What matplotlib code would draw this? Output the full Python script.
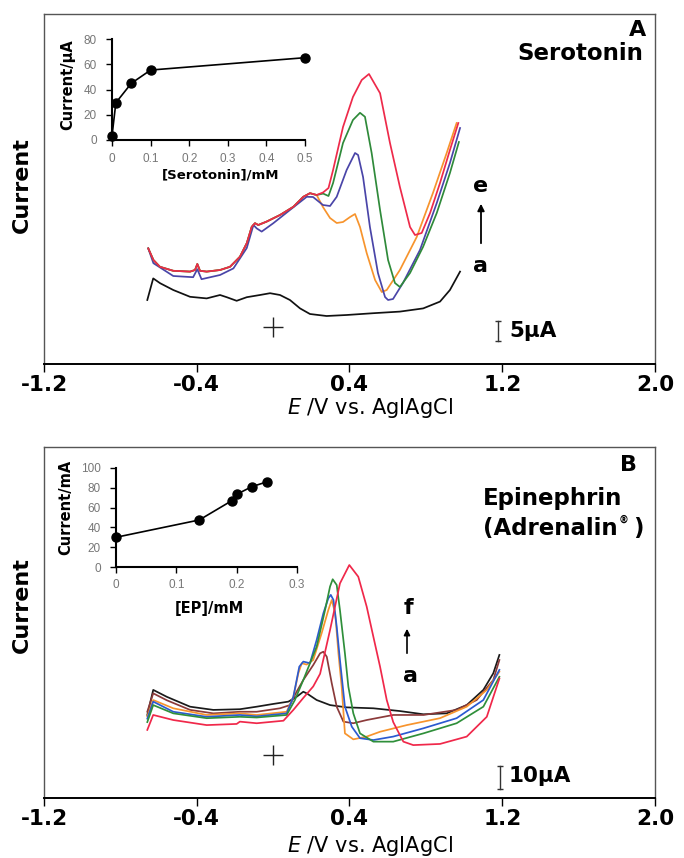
import numpy as np
import matplotlib
matplotlib.use("Agg")
import matplotlib.pyplot as plt

plt.rcParams['font.family'] = ['DejaVu Sans']
plt.rcParams['axes.unicode_minus'] = False

# ---------------- Panel A data (E / V, current / uA) ----------------
xticks = [-1.2, -0.4, 0.4, 1.2, 2.0]
xticklabels = ['-1.2', '-0.4', '0.4', '1.2', '2.0']

A_black_E = [-0.659, -0.628, -0.592, -0.523, -0.435, -0.348, -0.278, -0.243, -0.191, -0.138, -0.069, -0.016,
             0.036, 0.088, 0.141, 0.193, 0.280, 0.385, 0.525, 0.664, 0.786, 0.874, 0.926, 0.979]
A_black_I = [16.0, 21.4, 20.2, 18.5, 16.8, 16.4, 17.25, 16.7, 15.8, 16.7, 17.25, 17.7,
             17.25, 16.0, 13.9, 12.5, 12.0, 12.25, 12.7, 13.1, 13.9, 15.6, 18.5, 23.1]

A_left_E = [-0.654, -0.627, -0.593, -0.523, -0.435, -0.409, -0.397, -0.383, -0.348, -0.278, -0.226, -0.174,
            -0.138, -0.112, -0.095, -0.078, -0.034, 0.036, 0.106, 0.158, 0.193, 0.228]
A_left_I = [28.9, 26.0, 24.3, 23.3, 23.1, 23.5, 25.0, 23.3, 23.1, 23.5, 24.3, 26.8,
            30.2, 34.3, 35.2, 34.75, 35.6, 37.25, 39.3, 41.8, 42.7, 42.25]

A_red_E = [0.262, 0.290, 0.314, 0.366, 0.418, 0.464, 0.502, 0.560, 0.612, 0.664, 0.717, 0.743, 0.778,
           0.822, 0.874, 0.926, 0.970]
A_red_I = [42.9, 44.0, 48.5, 59.25, 66.75, 71.0, 72.5, 67.7, 55.25, 44.25, 34.25, 32.25, 32.75,
           37.75, 45.25, 53.5, 60.25]

A_green_E = [0.262, 0.290, 0.314, 0.366, 0.418, 0.455, 0.481, 0.516, 0.560, 0.602, 0.638, 0.664, 0.717,
             0.785, 0.857, 0.926, 0.973]
A_green_I = [42.6, 42.0, 45.25, 55.25, 61.0, 62.8, 61.8, 52.75, 38.5, 26.0, 20.25, 19.25, 22.75,
             29.25, 37.75, 47.75, 55.5]

A_orange_E = [0.261, 0.298, 0.333, 0.366, 0.403, 0.429, 0.455, 0.490, 0.534, 0.569, 0.595, 0.664, 0.752,
              0.837, 0.909, 0.961]
A_orange_I = [39.25, 36.5, 35.25, 35.5, 36.75, 37.5, 34.25, 27.75, 21.0, 18.0, 18.5, 23.5, 31.75,
              42.75, 52.75, 60.25]

A_blue_E = [-0.654, -0.627, -0.523, -0.419, -0.397, -0.375, -0.278, -0.208, -0.138, -0.103, -0.086, -0.060,
            0.001, 0.088, 0.176, 0.209, 0.261, 0.298, 0.333, 0.385, 0.429, 0.445, 0.471, 0.507, 0.549,
            0.586, 0.602, 0.628, 0.680, 0.769, 0.857, 0.926, 0.979]
A_blue_I = [28.9, 25.2, 22.0, 21.7, 23.7, 21.2, 22.25, 23.9, 29.0, 34.75, 33.9, 33.1,
            35.2, 38.5, 41.8, 41.75, 39.75, 39.5, 41.8, 48.5, 52.75, 52.25, 46.75, 34.25, 22.75,
            16.75, 16.0, 16.25, 20.25, 28.5, 40.25, 50.25, 59.0]

# inset A: serotonin calibration
serotonin_mM = [0.0, 0.01, 0.05, 0.1, 0.5]
serotonin_uA = [3.2, 29.5, 44.9, 55.4, 65.2]

# ---------------- Panel B data ----------------
B_black_E = [-0.659, -0.628, -0.557, -0.435, -0.313, -0.174, -0.086, 0.001, 0.080, 0.123, 0.158, 0.176,
             0.228, 0.298, 0.385, 0.525, 0.664, 0.787, 0.909, 1.014, 1.101, 1.153, 1.185]
B_black_I = [36.1, 47.0, 44.0, 39.7, 38.3, 38.6, 39.7, 40.9, 41.9, 44.0, 46.2, 45.5,
             42.6, 40.4, 39.4, 39.0, 37.8, 36.4, 36.8, 40.4, 47.0, 54.2, 62.2]

B_brown_E = [-0.659, -0.628, -0.557, -0.435, -0.313, -0.174, -0.086, 0.036, 0.088, 0.123, 0.158, 0.210,
             0.246, 0.263, 0.281, 0.307, 0.333, 0.368, 0.420, 0.490, 0.629, 0.787, 0.961, 1.066, 1.153, 1.185]
B_brown_I = [37.5, 45.5, 42.5, 38.3, 36.8, 37.5, 37.5, 39.0, 40.4, 46.2, 51.3, 57.8,
             62.9, 63.6, 61.4, 49.9, 39.7, 33.2, 32.5, 33.9, 36.1, 36.1, 38.3, 42.6, 51.3, 60.0]

B_orange_E = [-0.659, -0.628, -0.523, -0.348, -0.174, -0.086, 0.071, 0.106, 0.132, 0.150, 0.176, 0.210,
              0.254, 0.289, 0.307, 0.325, 0.342, 0.359, 0.376, 0.420, 0.490, 0.560, 0.700, 0.874, 1.014,
              1.119, 1.185]
B_orange_I = [35.5, 42.6, 39.0, 36.1, 36.8, 36.1, 37.5, 44.0, 54.2, 58.6, 58.0, 60.0,
              71.6, 81.7, 86.1, 80.3, 62.9, 48.4, 28.1, 25.5, 26.7, 28.8, 31.7, 34.7, 39.7,
              47.0, 54.9]

B_blue_E = [-0.659, -0.628, -0.523, -0.348, -0.174, -0.086, 0.071, 0.106, 0.137, 0.158, 0.193, 0.228,
            0.263, 0.289, 0.302, 0.316, 0.333, 0.350, 0.376, 0.412, 0.455, 0.525, 0.629, 0.787, 0.961,
            1.101, 1.185]
B_blue_I = [34.5, 41.9, 37.5, 35.3, 36.1, 35.5, 36.8, 44.0, 57.1, 59.3, 58.6, 68.7,
            80.3, 86.8, 88.3, 86.1, 74.5, 60.0, 39.7, 31.0, 26.0, 25.2, 26.7, 30.3, 34.7,
            42.6, 55.7]

B_green_E = [-0.659, -0.628, -0.523, -0.348, -0.174, -0.086, 0.071, 0.114, 0.158, 0.228, 0.272, 0.298,
             0.312, 0.333, 0.350, 0.376, 0.394, 0.420, 0.455, 0.525, 0.629, 0.787, 0.961, 1.101, 1.185]
B_green_I = [33.0, 40.4, 36.8, 34.7, 35.3, 35.0, 36.1, 42.6, 51.3, 65.8, 81.7, 91.9,
             95.1, 92.6, 81.7, 62.9, 48.4, 36.8, 28.1, 24.5, 24.5, 28.1, 32.5, 39.7, 52.7]

B_red_E = [-0.659, -0.628, -0.523, -0.348, -0.191, -0.174, -0.086, 0.054, 0.106, 0.158, 0.210, 0.246,
           0.298, 0.350, 0.399, 0.446, 0.490, 0.525, 0.560, 0.595, 0.629, 0.682, 0.734, 0.874, 1.014,
           1.119, 1.185]
B_red_I = [29.6, 36.1, 33.9, 31.7, 32.2, 33.2, 32.5, 33.6, 38.3, 43.5, 48.5, 54.0,
           73.0, 93.3, 101.3, 96.2, 83.2, 70.1, 57.1, 42.6, 33.0, 24.5, 23.0, 23.5, 26.7,
           35.3, 51.9]

# inset B: epinephrine calibration
ep_mM = [0.0, 0.138, 0.192, 0.200, 0.225, 0.251]
ep_mA = [30.0, 47.5, 67.0, 73.4, 81.1, 86.2]

W, H = 684, 858
fig = plt.figure(figsize=(W / 100, H / 100), dpi=100)
fig.patch.set_facecolor('white')


def fx(px):
    return px / W


def fy(py):
    return 1 - py / H


def style_main(ax, ymax):
    ax.set_xlim(-1.2, 2.0)
    ax.set_ylim(0, ymax)
    ax.set_xticks(xticks)
    ax.set_xticklabels(xticklabels, fontsize=15.5, fontweight='bold')
    ax.set_yticks([])
    ax.tick_params(axis='x', direction='out', length=6, width=1.0, pad=2)
    for s in ['top', 'left', 'right']:
        ax.spines[s].set_color('#555555')
        ax.spines[s].set_linewidth(1.0)
    ax.spines['bottom'].set_color('black')
    ax.spines['bottom'].set_linewidth(1.4)


axA = fig.add_axes([fx(44), fy(364), 611 / W, 350 / H])
style_main(axA, 87.5)
lw = 1.25
axA.plot(A_black_E, A_black_I, color='#111111', lw=lw)
axA.plot(np.concatenate([A_left_E, A_orange_E]), np.concatenate([A_left_I, A_orange_I]), color='#f7942d', lw=lw)
axA.plot(A_blue_E, A_blue_I, color='#4a45a8', lw=lw)
axA.plot(np.concatenate([A_left_E, A_green_E]), np.concatenate([A_left_I, A_green_I]), color='#2f8a3a', lw=lw)
axA.plot(np.concatenate([A_left_E, A_red_E]), np.concatenate([A_left_I, A_red_I]), color='#ee2a4a', lw=lw)
axA.plot([0.0], [9.3], marker='+', color='#222222', markersize=15, mew=1.0)
axA.plot([1.178, 1.178], [5.75, 10.75], color='#333333', lw=1.0)
axA.plot([1.178, 1.178], [5.75, 10.75], color='#333333', lw=0, marker='_', markersize=5, mew=1.0)

axB = fig.add_axes([fx(44), fy(798), 611 / W, 351 / H])
style_main(axB, 152.6)
axB.plot(B_black_E, B_black_I, color='#1a1a1a', lw=lw)
axB.plot(B_brown_E, B_brown_I, color='#8b3a3a', lw=lw)
axB.plot(B_orange_E, B_orange_I, color='#f7942d', lw=lw)
axB.plot(B_blue_E, B_blue_I, color='#2b5ad0', lw=lw)
axB.plot(B_green_E, B_green_I, color='#2f8f3a', lw=lw)
axB.plot(B_red_E, B_red_I, color='#f0284a', lw=lw)
axB.plot([0.0], [18.7], marker='+', color='#222222', markersize=15, mew=1.0)
axB.plot([1.188, 1.188], [3.9, 13.9], color='#333333', lw=1.0)
axB.plot([1.188, 1.188], [3.9, 13.9], color='#333333', lw=0, marker='_', markersize=5, mew=1.0)

# axis labels
for yc in (408, 846):
    fig.text(fx(370), fy(yc), r'$\mathit{E}$ /V vs. AgIAgCl', fontsize=15, ha='center', va='center')
for yc in (185, 605):
    fig.text(fx(22), fy(yc), 'Current', rotation=90, fontsize=16, fontweight='bold', ha='center', va='center')

# panel annotations A
fig.text(fx(646), fy(30), 'A', fontsize=16, fontweight='bold', ha='right', va='center')
fig.text(fx(643), fy(53), 'Serotonin', fontsize=16.5, fontweight='bold', ha='right', va='center')
fig.text(fx(509), fy(331), '5\u03bcA', fontsize=15.5, fontweight='bold', ha='left', va='center')
fig.text(fx(481), fy(186), 'e', fontsize=16, fontweight='bold', ha='center', va='center')
fig.text(fx(481), fy(266), 'a', fontsize=16, fontweight='bold', ha='center', va='center')
fig.patches.append(matplotlib.patches.FancyArrowPatch((fx(481), fy(246)), (fx(481), fy(201)),
                                                      transform=fig.transFigure, arrowstyle='-|>',
                                                      mutation_scale=10, color='black', lw=1.3))

# panel annotations B
fig.text(fx(637), fy(465), 'B', fontsize=16, fontweight='bold', ha='right', va='center')
fig.text(fx(483), fy(498), 'Epinephrin', fontsize=16.5, fontweight='bold', ha='left', va='center')
fig.text(fx(483), fy(528), '(Adrenalin', fontsize=16.5, fontweight='bold', ha='left', va='center')
fig.text(fx(624), fy(520), '\u00ae', fontsize=7, fontweight='bold', ha='center', va='center')
fig.text(fx(633), fy(528), ')', fontsize=16.5, fontweight='bold', ha='left', va='center')
fig.text(fx(509), fy(776), '10\u03bcA', fontsize=15.5, fontweight='bold', ha='left', va='center')
fig.text(fx(408), fy(608), 'f', fontsize=16, fontweight='bold', ha='center', va='center')
fig.text(fx(410), fy(676), 'a', fontsize=16, fontweight='bold', ha='center', va='center')
fig.patches.append(matplotlib.patches.FancyArrowPatch((fx(407), fy(656)), (fx(407), fy(626)),
                                                      transform=fig.transFigure, arrowstyle='-|>',
                                                      mutation_scale=9, color='black', lw=1.2))


def style_inset(ax, xt, xtl, yt):
    ax.set_xticks(xt)
    ax.set_xticklabels(xtl)
    ax.set_yticks(yt)
    ax.set_yticklabels([str(v) for v in yt])
    for lab in ax.get_xticklabels() + ax.get_yticklabels():
        lab.set_fontfamily('Liberation Sans')
        lab.set_fontsize(8.5)
        lab.set_color('#777777')
    ax.tick_params(direction='out', length=4, width=1.0, color='black')
    ax.tick_params(axis='y', pad=7)
    ax.tick_params(axis='x', pad=5)
    ax.spines['top'].set_visible(False)
    ax.spines['right'].set_visible(False)
    ax.spines['left'].set_linewidth(1.5)
    ax.spines['bottom'].set_linewidth(1.5)
    ax.patch.set_alpha(0)


insA = fig.add_axes([fx(112), fy(140), 193 / W, 101 / H])
insA.plot(serotonin_mM, serotonin_uA, color='black', lw=1.2, marker='o', markersize=6.5, clip_on=False)
insA.set_xlim(0, 0.5)
insA.set_ylim(0, 80)
style_inset(insA, [0, 0.1, 0.2, 0.3, 0.4, 0.5], ['0', '0.1', '0.2', '0.3', '0.4', '0.5'], [0, 20, 40, 60, 80])
fig.text(fx(68), fy(85), 'Current/\u03bcA', rotation=90, fontsize=10.5, fontweight='bold', ha='center', va='center')
fig.text(fx(221), fy(175), '[Serotonin]/mM', fontsize=9.5, fontweight='bold', ha='center', va='center')

insB = fig.add_axes([fx(116), fy(567), 181 / W, 99 / H])
insB.plot(ep_mM, ep_mA, color='black', lw=1.2, marker='o', markersize=6.5, clip_on=False)
insB.set_xlim(0, 0.3)
insB.set_ylim(0, 100)
style_inset(insB, [0, 0.1, 0.2, 0.3], ['0', '0.1', '0.2', '0.3'], [0, 20, 40, 60, 80, 100])
fig.text(fx(66), fy(507), 'Current/mA', rotation=90, fontsize=10.5, fontweight='bold', ha='center', va='center')
fig.text(fx(209), fy(608), '[EP]/mM', fontsize=10.5, fontweight='bold', ha='center', va='center')

fig.savefig('out.png', dpi=100, facecolor='white')
